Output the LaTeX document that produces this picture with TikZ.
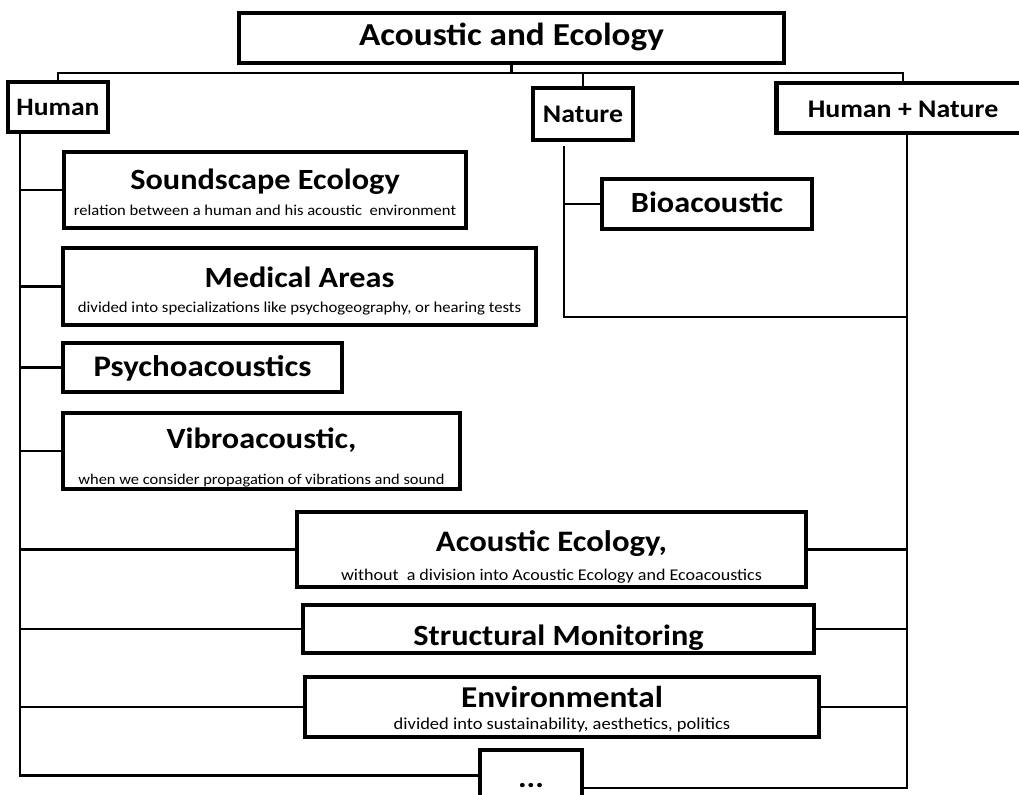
\documentclass[tikz,border=0pt]{standalone}
\usepackage{fontspec}
\setmainfont{Carlito}
\newfontfamily\wfont{Carlito}[FakeStretch=1.1]
\usetikzlibrary{shadows}
\newcommand{\Head}[2][22]{{\wfont\bfseries\fontsize{#1}{#1}\selectfont #2}}
\newcommand{\Sub}[2][11]{{\wfont\fontsize{#1}{#1}\selectfont\rule[-3pt]{0pt}{3pt}#2}}

\begin{document}
\begin{tikzpicture}[
  x=0.75pt, y=-0.75pt,
  box/.style={draw, line width=3.3pt, fill=white, align=center, inner sep=0pt,
    font=\fontsize{11}{12}\selectfont,
    drop shadow={shadow xshift=1.5pt, shadow yshift=-1.5pt, opacity=.3}},
  link/.style={line width=2pt},
  bus/.style={line width=1.6pt}
]
\useasboundingbox (0,0) rectangle (1019,794);

\node[box, minimum width=408.75pt, minimum height=37.5pt, text height=14pt, text depth=3.5pt] (title) at (511.5,38) {\Head[24]{Acoustic and Ecology}};
\node[box, minimum width=75pt, minimum height=37.5pt, text height=15pt, text depth=3pt] (human) at (58,107) {\Head[18.8]{Human}};
\node[box, minimum width=75pt, minimum height=39pt, text height=15pt, text depth=3pt] (nature) at (583,114) {\Head[19]{Nature}};
\node[box, minimum width=189.75pt, minimum height=37.5pt, text height=16pt, text depth=2.5pt] (hn) at (903,108) {\Head[19]{Human + Nature}};

\node[box, minimum width=301.5pt, minimum height=57pt, font=\fontsize{11}{19.5}\selectfont] (sound) at (265,190)
  {\Head{\rule{0pt}{21pt}Soundscape Ecology}\\\Sub[11.3]{relation between a human and his acoustic\ \ environment}};
\node[box, minimum width=354.75pt, minimum height=57.75pt, font=\fontsize{11}{18.75}\selectfont] (medical) at (299.5,286.5)
  {\Head{\rule{0pt}{22.5pt}Medical Areas}\\\Sub[11.4]{divided into specializations like psychogeography, or hearing tests}};
\node[box, minimum width=209.25pt, minimum height=36.75pt, text height=16pt, text depth=1.8pt] (psycho) at (202.5,367.5) {\Head[22.4]{Psychoacoustics}};
\node[box, minimum width=297.75pt, minimum height=57pt, font=\fontsize{11}{27}\selectfont] (vibro) at (261.5,451)
  {\Head{\rule{0pt}{25.5pt}Vibroacoustic,}\\\Sub[11.2]{when we consider propagation of vibrations and sound}};
\node[box, minimum width=157.5pt, minimum height=37.5pt, text height=15pt, text depth=3pt] (bio) at (707,204) {\Head{Bioacoustic}};

\node[box, minimum width=381.75pt, minimum height=56.25pt, font=\fontsize{11}{21.75}\selectfont] (acoustic) at (551.5,549.5)
  {\Head[22.3]{\rule{0pt}{27pt}Acoustic Ecology,}\\\Sub[12.3]{without\ \ a division into Acoustic Ecology and Ecoacoustics}};
\node[box, minimum width=383.25pt, minimum height=36pt, text height=24pt, text depth=0pt] (structural) at (558.5,629) {\Head{Structural Monitoring}};
\node[box, minimum width=385.5pt, minimum height=45pt, font=\fontsize{11}{16.5}\selectfont] (environ) at (562,707)
  {\Head[22.7]{\rule{0pt}{19.5pt}Environmental}\\\Sub[12.6]{divided into sustainability, aesthetics, politics}};
\node[box, minimum width=76.5pt, minimum height=45pt, text height=13.5pt, text depth=3pt] (dots) at (531,780) {\Head{...}};

\coordinate (busline) at (0,73);
\coordinate (hsp) at (20,0);
\coordinate (nsp) at (564,0);
\coordinate (hnsp) at (907,0);
\coordinate (nend) at (564,317);

\draw[bus] (human.north) -- (human.north |- busline) -- (hn.north |- busline) -- (hn.north);
\draw[bus] (title.south) -- (title.south |- busline);
\draw[bus] (nature.north) -- (nature.north |- busline);

\draw[link] (human.south -| hsp) |- ([yshift=3.5pt]dots.west);
\draw[link] (hn.south -| hnsp) |- ([yshift=-6pt]dots.east);
\draw[link] ([yshift=-3pt]nature.south -| nsp) -- (nend) -- (nend -| hnsp);

\draw[link] (sound.west) -- (sound.west -| hsp);
\draw[link] (medical.west) -- (medical.west -| hsp);
\draw[link] (psycho.west) -- (psycho.west -| hsp);
\draw[link] (vibro.west) -- (vibro.west -| hsp);
\draw[link] (acoustic.west) -- (acoustic.west -| hsp);
\draw[link] (structural.west) -- (structural.west -| hsp);
\draw[link] (environ.west) -- (environ.west -| hsp);

\draw[link] (bio.west) -- (bio.west -| nsp);

\draw[link] (acoustic.east) -- (acoustic.east -| hnsp);
\draw[link] (structural.east) -- (structural.east -| hnsp);
\draw[link] (environ.east) -- (environ.east -| hnsp);
\end{tikzpicture}
\end{document}
